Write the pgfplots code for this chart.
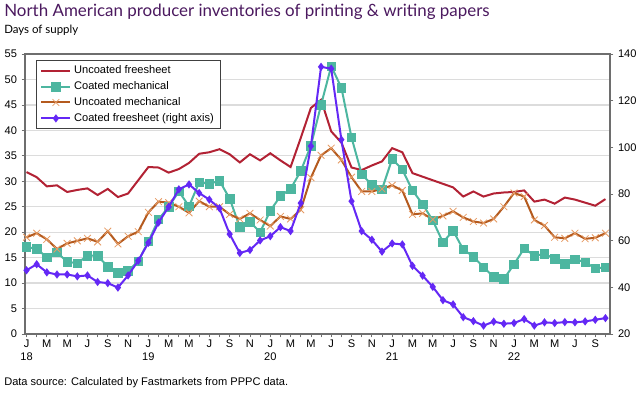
\documentclass[border=0pt]{standalone}
\usepackage{fontspec}
\setmainfont{Liberation Sans}
\newfontfamily\titlefont{Lato}
\usepackage{pgfplots}
\usepackage{pgfplotstable}
\pgfplotsset{compat=1.18}

\definecolor{cRed}{RGB}{178,34,52}
\definecolor{cTeal}{RGB}{77,182,160}
\definecolor{cBrown}{RGB}{180,90,30}
\definecolor{cBrownMark}{RGB}{230,155,100}
\definecolor{cPurple}{RGB}{100,40,245}
\definecolor{cTitle}{RGB}{75,25,95}
\definecolor{cGrid}{RGB}{220,220,220}
\definecolor{cAxis}{RGB}{110,110,110}

\pgfplotstableread{
i ufs cm um cfs
0 31.8 17.1 19.0 47.3
1 30.8 16.7 19.8 49.9
2 29.0 15.1 18.6 46.4
3 29.2 16.0 16.7 45.5
4 27.9 14.2 17.8 45.5
5 28.3 13.9 18.3 44.7
6 28.6 15.4 18.8 45.1
7 27.3 15.4 18.1 42.3
8 28.5 13.2 20.2 41.8
9 26.9 12.0 17.7 39.9
10 27.6 12.4 19.2 45.1
11 30.2 14.3 20.1 51.4
12 32.8 18.2 23.9 59.1
13 32.7 22.5 26.0 67.8
14 31.7 25.0 25.8 74.5
15 32.4 28.0 25.0 82.0
16 33.6 25.1 23.8 84.1
17 35.4 29.8 26.1 80.4
18 35.7 29.5 25.0 77.6
19 36.3 30.1 25.0 73.9
20 35.3 26.6 23.5 62.8
21 33.7 21.0 22.6 54.7
22 35.3 22.0 23.7 56.0
23 34.1 20.0 22.4 60.1
24 35.5 24.2 21.2 61.9
25 34.1 27.1 23.1 65.8
26 32.8 28.5 22.6 64.1
27 38.5 32.0 24.4 76.1
28 44.4 37.0 30.7 100.5
29 46.0 45.0 35.1 134.5
30 39.8 52.6 36.5 133.7
31 37.6 48.4 34.2 103.3
32 32.7 38.6 30.8 76.9
33 32.2 31.4 28.0 64.1
34 33.1 29.3 28.0 60.4
35 33.9 28.4 28.5 55.3
36 36.5 34.4 29.2 58.8
37 35.7 32.3 28.2 58.4
38 31.6 28.2 23.5 49.2
39 30.9 25.5 23.7 45.0
40 30.2 22.3 22.5 40.2
41 29.5 18.0 23.2 34.5
42 28.8 20.3 24.1 32.7
43 27.0 16.6 22.9 27.2
44 28.0 15.2 22.1 25.5
45 27.0 13.1 21.8 23.6
46 27.6 11.2 22.6 25.3
47 27.8 10.8 25.0 24.4
48 27.9 13.7 27.7 24.7
49 28.2 16.8 27.0 26.4
50 26.0 15.4 22.4 23.6
51 26.4 15.7 21.3 25.0
52 25.6 14.8 19.0 24.7
53 26.8 13.8 18.8 25.1
54 26.4 14.7 19.8 25.0
55 25.8 14.1 18.7 25.4
56 25.2 12.9 18.9 26.1
57 26.5 13.1 19.8 26.8
}\data

\pgfplotsset{
  common/.style={
    at={(0,0)}, anchor=south west,
    scale only axis, width=438.75pt, height=210pt,
    xmin=-0.15, xmax=57.45,
    tick align=outside,
    major tick length=2.5pt,
    tick style={cAxis, line width=0.6pt},
    axis line style={cAxis, line width=0.8pt},
    tick label style={font=\fontsize{8.3}{9.5}\selectfont},
    /pgf/number format/assume math mode=true,
  },
  sRed/.style={cRed, line width=1.5pt, no markers},
  sTeal/.style={cTeal, line width=1.5pt, mark=square*, mark size=3.2pt, mark options={fill=cTeal, draw=cTeal, line width=0.5pt}},
  sBrown/.style={cBrown, line width=1.5pt, mark=x, mark size=3.6pt, mark options={draw=cBrownMark, line width=0.6pt}},
  sPurple/.style={cPurple, line width=1.5pt, mark=diamond*, mark size=1.9pt, mark options={fill=cPurple, draw=cPurple}},
}

\begin{document}
\begin{tikzpicture}
\path[use as bounding box] (-18.75pt,-45.75pt) rectangle (463.5pt,250.5pt);

\begin{axis}[common,
  ymin=0, ymax=55, ytick={0,5,...,55},
  xtick={0,...,57},
  xticklabels={{J\\18},,M,,M,,J,,S,,N,,{J\\19},,M,,M,,J,,S,,N,,{J\\20},,M,,M,,J,,S,,N,,{J\\21},,M,,M,,J,,S,,N,,{J\\22},,M,,M,,J,,S,,},
  xticklabel style={align=center, inner sep=2pt},
  xtick pos=bottom, ytick pos=left,
  ymajorgrids, grid style={cGrid, line width=0.9pt},
]
\addplot[sRed] table[x=i, y=ufs] {\data};
\addplot[sTeal] table[x=i, y=cm] {\data};
\addplot[sBrown] table[x=i, y=um] {\data};
\end{axis}

\begin{axis}[common,
  ymin=20, ymax=140, ytick={20,40,...,140},
  axis y line*=right, hide x axis,
  legend cell align=left,
  legend style={at={(0.0188,0.9786)}, anchor=north west, draw=black!75, line width=0.6pt,
    fill=white, font=\fontsize{8.3}{9.5}\selectfont, inner xsep=3pt, inner ysep=2pt, row sep=0.4pt},
  legend image code/.code={\draw[mark repeat=2,mark phase=2] plot coordinates {(0pt,0pt) (10.9pt,0pt) (21.8pt,0pt)};},
]
\addlegendimage{sRed}
\addlegendimage{sTeal}
\addlegendimage{sBrown}
\addplot[sPurple] table[x=i, y=cfs] {\data};
\legend{Uncoated freesheet, Coated mechanical, Uncoated mechanical, Coated freesheet (right axis)}
\end{axis}

\node[anchor=base west, inner sep=0, text=cTitle, font=\titlefont\fontsize{12.7}{14}\selectfont] at (-15.75pt,237.75pt) {North American producer inventories of printing \& writing papers};
\node[anchor=base west, inner sep=0, font=\titlefont\fontsize{8.6}{10}\selectfont] at (-15.75pt,225pt) {Days of supply};
\node[anchor=base west, inner sep=0, font=\fontsize{8.3}{9.5}\selectfont] at (-15.75pt,-38.5pt) {Data source: Calculated by Fastmarkets from PPPC data.};
\end{tikzpicture}
\end{document}
